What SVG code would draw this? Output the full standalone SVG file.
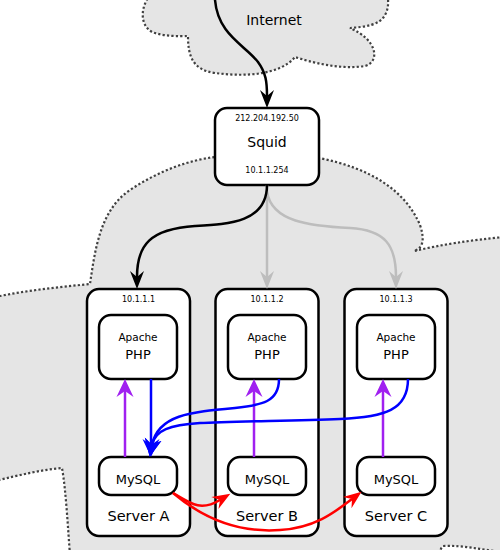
<svg xmlns="http://www.w3.org/2000/svg" width="500" height="550" viewBox="0 0 500 550">
<style>
.cloud{fill:#e5e5e5;stroke:#404040;stroke-width:2.2;stroke-dasharray:2.2,2.2}
.box{fill:#fff;stroke:#000;stroke-width:2.5}
.t{font-family:"DejaVu Sans",sans-serif;fill:#000;text-anchor:middle}
.ip{font-size:8px}
.c{fill:none;stroke-width:2.5}
.k{stroke:#000}.g{stroke:#bdbdbd}.p{stroke:#a020f0}.b{stroke:#0000ff}.r{stroke:#ff0000}
</style>
<defs>
<marker id="mk" markerUnits="userSpaceOnUse" markerWidth="20" markerHeight="16" refX="6" refY="8" orient="auto"><path d="M18,8 L0,1 L6,8 L0,15 Z" fill="#000"/></marker>
<marker id="mg" markerUnits="userSpaceOnUse" markerWidth="20" markerHeight="16" refX="6" refY="8" orient="auto"><path d="M18,8 L0,1 L6,8 L0,15 Z" fill="#bdbdbd"/></marker>
<marker id="mp" markerUnits="userSpaceOnUse" markerWidth="20" markerHeight="18" refX="6" refY="9" orient="auto"><path d="M18,9 L0,0.5 L6,9 L0,17.5 Z" fill="#a020f0"/></marker>
<marker id="mb" markerUnits="userSpaceOnUse" markerWidth="20" markerHeight="18" refX="6" refY="9" orient="auto"><path d="M18,9 L0,0.5 L6,9 L0,17.5 Z" fill="#0000ff"/></marker>
<marker id="mr" markerUnits="userSpaceOnUse" markerWidth="20" markerHeight="16" refX="6" refY="8" orient="auto"><path d="M18,8 L0,1 L6,8 L0,15 Z" fill="#ff0000"/></marker>
</defs>
<g id="clouds">
<path class="cloud" d="M150,-5 C140,8 140,25 152,32 C165,37 180,36 188,36 C188,55 192,70 215,73 C245,77 280,75 295,57 C310,62 340,70 365,66 C380,62 378,40 350,28 C365,27 380,25 385,15 C389,8 388,2 388,-5 Z"/>
<path class="cloud" d="M-5,297 L0,296 C30,290 60,287 90,284 C95,250 100,210 130,190 C160,170 190,160 215,157 L319,158 C370,168 405,190 420,225 C425,240 423,248 414,251 C440,245 470,240 505,237 L505,552 C480,550 465,545 443,546 C441,548 440,550 440,555 L70,555 C68,530 66,490 62,468 C40,470 20,475 -5,481 Z"/>
<text class="t" x="274" y="25" font-size="14">Internet</text>
</g>
<g id="squid">
<rect class="box" x="215" y="108" width="104" height="77" rx="12"/>
<text class="t ip" x="267" y="121">212.204.192.50</text>
<text class="t" x="267" y="147" font-size="14">Squid</text>
<text class="t ip" x="267" y="173">10.1.1.254</text>
</g>
<g id="serverA">
<rect class="box" x="87" y="289" width="103" height="247" rx="12"/>
<text class="t ip" x="138.5" y="302">10.1.1.1</text>
<text class="t" x="138.5" y="521" font-size="14.5">Server A</text>
</g>
<g id="serverB">
<rect class="box" x="215.5" y="289" width="103" height="247" rx="12"/>
<text class="t ip" x="267" y="302">10.1.1.2</text>
<text class="t" x="267" y="521" font-size="14.5">Server B</text>
</g>
<g id="serverC">
<rect class="box" x="344.5" y="289" width="103" height="247" rx="12"/>
<text class="t ip" x="396" y="302">10.1.1.3</text>
<text class="t" x="396" y="521" font-size="14.5">Server C</text>
</g>
<g id="apacheA">
<rect class="box" x="99" y="315" width="78" height="64" rx="12"/>
<text class="t" x="138" y="341" font-size="10.5">Apache</text>
<text class="t" x="138" y="359" font-size="13">PHP</text>
</g>
<g id="apacheB">
<rect class="box" x="228" y="315" width="78" height="64" rx="12"/>
<text class="t" x="267" y="341" font-size="10.5">Apache</text>
<text class="t" x="267" y="359" font-size="13">PHP</text>
</g>
<g id="apacheC">
<rect class="box" x="357" y="315" width="78" height="64" rx="12"/>
<text class="t" x="396" y="341" font-size="10.5">Apache</text>
<text class="t" x="396" y="359" font-size="13">PHP</text>
</g>
<g id="mysqlA">
<rect class="box" x="99" y="457" width="78" height="38" rx="12"/>
<text class="t" x="138" y="484" font-size="13">MySQL</text>
</g>
<g id="mysqlB">
<rect class="box" x="228" y="457" width="78" height="38" rx="12"/>
<text class="t" x="267" y="484" font-size="13">MySQL</text>
</g>
<g id="mysqlC">
<rect class="box" x="357" y="457" width="78" height="38" rx="12"/>
<text class="t" x="396" y="484" font-size="13">MySQL</text>
</g>
<g id="connectors">
<path class="c k" d="M215,0 C218,35 245,45 258,62 C266,73 267,82 267,96" marker-end="url(#mk)"/>
<path class="c g" d="M267,185 L267,277" marker-end="url(#mg)"/>
<path class="c g" d="M267,192 C272,222 310,226 350,228 C385,230 396,245 396,277" marker-end="url(#mg)"/>
<path class="c k" d="M267,185 C267,222 230,224 195,226 C150,229 137,245 137,277" marker-end="url(#mk)"/>
<path class="c p" d="M125,457 L125,391" marker-end="url(#mp)"/>
<path class="c p" d="M254,457 L254,391" marker-end="url(#mp)"/>
<path class="c p" d="M383,457 L383,391" marker-end="url(#mp)"/>
<path class="c b" d="M151,379 L151,445" marker-end="url(#mb)"/>
<path class="c b" d="M279,379 C279,402 262,405 235,408 C190,412 158,415 152,445" marker-end="url(#mb)"/>
<path class="c b" d="M408,379 C408,410 385,417 340,419 C290,421 230,421 200,423 C170,425 155,430 152,445" marker-end="url(#mb)"/>
<path class="c r" d="M173,493 C190,503 200,512 220,500" marker-end="url(#mr)"/>
<path class="c r" d="M173,493 C205,520 240,533 280,530 C315,528 335,512 352,499" marker-end="url(#mr)"/>
</g>
</svg>
